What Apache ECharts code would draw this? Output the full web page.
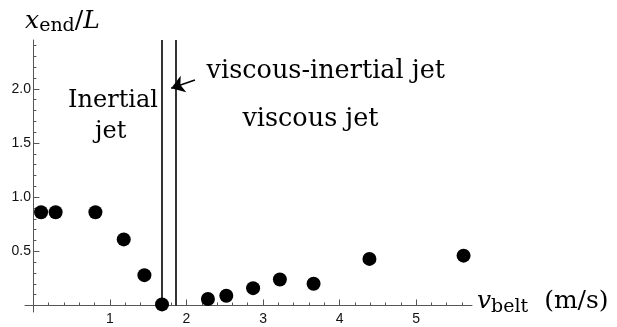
<!DOCTYPE html>
<html>
<head>
<meta charset="utf-8">
<script src="https://cdn.jsdelivr.net/npm/echarts@6/dist/echarts.min.js"></script>
<style>
  html, body { margin: 0; padding: 0; background: #fff; }
  #chart { width: 617px; height: 327px; }
</style>
</head>
<body>
<div id="chart"></div>
<script>
// Measured jet end position versus belt speed
const vBelt = [0.10, 0.29, 0.81, 1.18, 1.45, 1.68, 2.28, 2.52, 2.87, 3.22, 3.66, 4.39, 5.62];
const xEnd  = [0.86, 0.86, 0.86, 0.61, 0.28, 0.01, 0.06, 0.09, 0.16, 0.24, 0.20, 0.43, 0.46];

// Regime boundaries (belt speed, m/s)
const regimeBounds = [1.68, 1.86];

// Axis ticks
const xTickLabels = [1, 2, 3, 4, 5];
const xMinorTicks = [0.2, 0.4, 0.6, 0.8, 1.2, 1.4, 1.6, 1.8, 2.2, 2.4, 2.6, 2.8,
                     3.2, 3.4, 3.6, 3.8, 4.2, 4.4, 4.6, 4.8, 5.2, 5.4, 5.6];
const yTickLabels = [0.5, 1.0, 1.5, 2.0];
const yMinorTicks = [0.1, 0.2, 0.3, 0.4, 0.6, 0.7, 0.8, 0.9, 1.1, 1.2, 1.3, 1.4,
                     1.6, 1.7, 1.8, 1.9, 2.1, 2.2, 2.3, 2.4];

// Regime labels
const regimeNames = ['Inertial', 'jet', 'viscous-inertial jet', 'viscous jet'];
const regimeNameX = [1.04, 1.01, 3.82, 3.62];
const regimeNameY = [1.89, 1.60, 2.16, 1.72];
const regimeNameSize = [24, 24, 25.5, 25.5];

// Pointer to the narrow viscous-inertial band
const arrowFrom = [2.11, 2.08];
const arrowTo   = [1.80, 2.005];

const X_MIN = -0.11, X_MAX = 5.73, Y_MIN = -0.06, Y_MAX = 2.45;
const axisColor = '#555';
const serif = 'DejaVu Serif';
const sans = 'Liberation Sans, Arial, sans-serif';

const mathRich = {
  i: { fontFamily: serif, fontStyle: 'italic', fontSize: 25, lineHeight: 30, color: '#000' },
  u: { fontFamily: serif, fontSize: 25, lineHeight: 30, color: '#000' },
  s: { fontFamily: serif, fontSize: 19, lineHeight: 19, verticalAlign: 'bottom', color: '#000' }
};

const chart = echarts.init(document.getElementById('chart'), null, { renderer: 'canvas' });

chart.setOption({
  animation: false,
  backgroundColor: '#fff',
  grid: { left: 25, right: 145, top: 40, bottom: 15, outerBoundsMode: 'none' },
  xAxis: [
    {
      type: 'value', min: X_MIN, max: X_MAX, position: 'bottom',
      axisLine: { onZero: true, lineStyle: { color: axisColor, width: 1 } },
      axisTick: { inside: true, length: 6, customValues: xTickLabels, lineStyle: { color: axisColor } },
      axisLabel: {
        customValues: xTickLabels, margin: 0,
        fontFamily: sans, fontSize: 14, color: '#111'
      },
      splitLine: { show: false },
      name: '{i|v}{s|belt}{u|  (m/s)}',
      nameLocation: 'end', nameGap: 5,
      nameTextStyle: { rich: mathRich, padding: [0, 0, 8, 0] }
    },
    {
      type: 'value', min: X_MIN, max: X_MAX, position: 'bottom',
      axisLine: { onZero: true, lineStyle: { color: axisColor, opacity: 0 } },
      axisTick: { inside: true, length: 3, customValues: xMinorTicks, lineStyle: { color: axisColor } },
      axisLabel: { show: false },
      splitLine: { show: false }
    }
  ],
  yAxis: [
    {
      type: 'value', min: Y_MIN, max: Y_MAX, position: 'left',
      axisLine: { onZero: true, lineStyle: { color: axisColor, width: 1 } },
      axisTick: { inside: true, length: 6, customValues: yTickLabels, lineStyle: { color: axisColor } },
      axisLabel: {
        customValues: yTickLabels, margin: -6, formatter: v => v.toFixed(1),
        fontFamily: sans, fontSize: 14, color: '#111'
      },
      splitLine: { show: false },
      name: '{i|x}{s|end}{u|/}{i|L}',
      nameLocation: 'end', nameGap: 4,
      nameTextStyle: { rich: mathRich, align: 'center', padding: [0, 0, 0, 58] }
    },
    {
      type: 'value', min: Y_MIN, max: Y_MAX, position: 'left',
      axisLine: { onZero: true, lineStyle: { color: axisColor, opacity: 0 } },
      axisTick: { inside: true, length: 3, customValues: yMinorTicks, lineStyle: { color: axisColor } },
      axisLabel: { show: false },
      splitLine: { show: false }
    }
  ],
  series: [
    {
      name: 'x_end/L',
      type: 'scatter',
      xAxisIndex: 0, yAxisIndex: 0,
      clip: false,
      symbol: 'circle',
      symbolSize: 14,
      itemStyle: { color: '#000', opacity: 1 },
      data: vBelt.map((v, i) => [v, xEnd[i]]),
      markLine: {
        silent: true,
        symbol: ['none', 'none'],
        label: { show: false },
        lineStyle: { color: '#000', width: 1.6, type: 'solid', opacity: 1 },
        data: regimeBounds.map(b => [{ coord: [b, 0] }, { coord: [b, Y_MAX] }]).concat([
          [
            { coord: arrowFrom, symbol: 'none' },
            { coord: arrowTo, symbol: 'arrow', symbolSize: 13 }
          ]
        ])
      }
    },
    {
      name: 'regimes',
      type: 'scatter',
      xAxisIndex: 0, yAxisIndex: 0,
      clip: false,
      silent: true,
      symbolSize: 1,
      itemStyle: { color: 'rgba(0,0,0,0)', opacity: 1 },
      label: {
        show: true,
        position: 'inside',
        formatter: p => p.value[2],
        fontFamily: serif,
        color: '#000',
        opacity: 1
      },
      data: regimeNames.map((n, i) => ({
        value: [regimeNameX[i], regimeNameY[i], n],
        label: { fontSize: regimeNameSize[i] }
      }))
    }
  ]
});
</script>
</body>
</html>
